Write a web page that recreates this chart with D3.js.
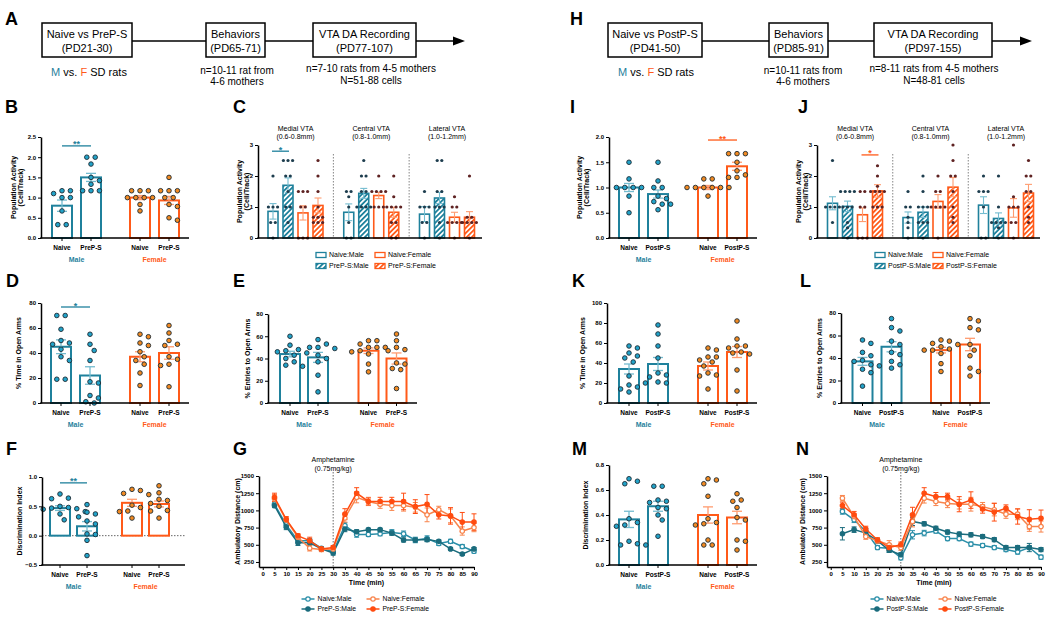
<!DOCTYPE html>
<html>
<head>
<meta charset="utf-8">
<script src="https://cdn.jsdelivr.net/npm/d3@7/dist/d3.min.js"></script>
<style>
html,body{margin:0;padding:0;background:#fff;}
svg{display:block;}
</style>
</head>
<body>
<svg id="chart" width="1050" height="618" xmlns="http://www.w3.org/2000/svg"></svg>
<script>
// ================= DATA =================
const sexes = ["Male", "Female"];
const treatPre = ["Naive", "PreP-S"];
const treatPost = ["Naive", "PostP-S"];
const regions = ["Medial VTA", "Central VTA", "Lateral VTA"];
const regionRanges = ["(0.6-0.8mm)", "(0.8-1.0mm)", "(1.0-1.2mm)"];
const times = [5, 10, 15, 20, 25, 30, 35, 40, 45, 50, 55, 60, 65, 70, 75, 80, 85, 90];
const timeTicks = [0, 5, 10, 15, 20, 25, 30, 35, 40, 45, 50, 55, 60, 65, 70, 75, 80, 85, 90];
const distTicks = [250, 500, 750, 1000, 1250, 1500];

// order in each bar panel: Naive:Male, Treated:Male, Naive:Female, Treated:Female
// B population activity (PreP-S)
const bMean = [0.80, 1.50, 1.00, 0.93];
const bSem = [0.14, 0.10, 0.05, 0.10];
const bPts = [
  [1.17, 1.17, 1.10, 1.00, 1.00, 0.67, 0.33, 0.33],
  [2.00, 2.00, 1.83, 1.50, 1.42, 1.33, 1.17, 1.17, 1.17],
  [1.17, 1.17, 1.17, 1.00, 1.00, 1.00, 1.00, 0.83, 0.67],
  [1.50, 1.17, 1.17, 1.17, 1.00, 1.00, 0.83, 0.78, 0.50, 0.44]
];
// C population activity by region (PreP-S)
const cMedialMean = [0.86, 1.70, 0.81, 1.05];
const cMedialSem = [0.25, 0.24, 0.23, 0.24];
const cCentralMean = [0.83, 1.44, 1.37, 0.83];
const cCentralSem = [0.27, 0.16, 0.10, 0.16];
const cLateralMean = [0.77, 1.29, 0.67, 0.67];
const cLateralSem = [0.24, 0.18, 0.16, 0.18];
const cMedialPts = [[2, 1, 1, 1, 0.5, 0.5, 0], [2.5, 2.5, 2.5, 2, 2, 1.5, 1, 1, 0.5], [1.5, 1.5, 1.5, 1, 1, 0, 0, 0], [2.5, 2, 1.5, 1, 0.67, 0.67, 0.67, 0.5, 0.5, 0.5]];
const cCentralPts = [[1.5, 1.5, 1.33, 1, 0.5, 0, 0], [2.5, 2, 2, 1.5, 1.5, 1, 1, 1, 1], [2, 1.5, 1.5, 1.5, 1.5, 1, 1, 1], [2, 1.33, 1, 1, 1, 1, 0.5, 0.5, 0, 0]];
const cLateralPts = [[1.5, 1, 1, 1, 0.5, 0.5, 0], [2.5, 2.5, 1.5, 1.5, 1, 1, 1, 0.5, 0], [1.33, 1, 1, 0.5, 0.5, 0.5, 0.5, 0], [2, 0.67, 0.67, 0.5, 0.5, 0.5, 0.5, 0]];
// D % time in open arms (PreP-S)
const dMean = [45, 22, 37, 40];
const dSem = [5.5, 7, 4, 5];
const dPts = [
  [70, 70, 59, 50, 48, 47, 43, 37, 34, 19, 19],
  [55, 47, 42, 34, 17, 16, 6, 4, 1, 0],
  [55, 53, 48, 46, 41, 37, 34, 31, 24, 14],
  [62, 56, 50, 47, 46, 37, 35, 31, 30, 13]
];
// E % entries to open arms (PreP-S)
const eMean = [44, 41, 47, 40];
const eSem = [2.5, 4.5, 2.5, 5];
const ePts = [
  [60, 52, 48, 47, 46, 45, 43, 40, 37, 34, 33],
  [57, 53, 50, 50, 49, 43, 40, 37, 25, 10],
  [56, 56, 53, 50, 50, 50, 47, 46, 44, 35, 28],
  [62, 56, 50, 48, 47, 36, 35, 31, 30, 13]
];
// F discrimination index (PreP-S)
const fMean = [0.47, 0.16, 0.56, 0.54];
const fSem = [0.04, 0.08, 0.06, 0.05];
const fPts = [
  [0.71, 0.64, 0.63, 0.50, 0.48, 0.47, 0.46, 0.45, 0.41, 0.37, 0.27],
  [0.53, 0.40, 0.37, 0.32, 0.25, 0.20, 0.03, 0.02, -0.08, -0.34],
  [0.79, 0.77, 0.72, 0.70, 0.52, 0.48, 0.42, 0.41, 0.30],
  [0.85, 0.73, 0.62, 0.60, 0.55, 0.50, 0.43, 0.42, 0.30]
];
// G ambulatory distance (PreP-S)
const gNaiveMale = [1090, 790, 560, 560, 450, 400, 780, 650, 650, 660, 680, 660, 570, 590, 520, 550, 475, 405];
const gPrePMale = [1070, 760, 530, 530, 440, 380, 730, 690, 720, 720, 670, 570, 570, 575, 550, 440, 365, 440];
const gNaiveFemale = [1170, 860, 610, 450, 430, 440, 890, 1190, 1130, 1090, 1070, 1070, 1045, 935, 1010, 920, 700, 750];
const gPrePFemale = [1190, 870, 630, 560, 440, 460, 945, 1250, 1130, 1130, 1130, 1130, 1055, 1090, 935, 920, 830, 830];
const gNaiveMaleSem = [30, 40, 30, 30, 20, 20, 40, 40, 30, 30, 40, 40, 40, 40, 30, 30, 30, 25];
const gPrePMaleSem = [30, 40, 40, 40, 20, 30, 40, 30, 20, 20, 30, 30, 30, 30, 20, 20, 20, 20];
const gNaiveFemaleSem = [60, 40, 40, 40, 30, 30, 60, 80, 60, 60, 70, 80, 70, 100, 50, 100, 60, 60];
const gPrePFemaleSem = [60, 40, 30, 50, 30, 30, 80, 80, 50, 60, 60, 120, 100, 140, 60, 120, 140, 120];

// I population activity (PostP-S)
const iMean = [1.00, 0.87, 1.00, 1.42];
const iSem = [0.08, 0.08, 0.04, 0.08];
const iPts = [
  [1.50, 1.17, 1.00, 1.00, 1.00, 1.00, 0.83, 0.50],
  [1.50, 1.13, 1.00, 1.00, 0.83, 0.78, 0.72, 0.67, 0.67, 0.56],
  [1.17, 1.17, 1.00, 1.00, 1.00, 1.00, 1.00, 1.00, 0.83],
  [1.67, 1.67, 1.67, 1.50, 1.33, 1.25, 1.20, 1.20]
];
// J population activity by region (PostP-S)
const jMedialMean = [1.12, 1.02, 0.75, 1.52];
const jMedialSem = [0.21, 0.17, 0.22, 0.20];
const jCentralMean = [0.66, 0.83, 1.18, 1.64];
const jCentralSem = [0.18, 0.17, 0.22, 0.31];
const jLateralMean = [1.06, 0.63, 0.97, 1.45];
const jLateralSem = [0.27, 0.18, 0.30, 0.28];
const jMedialPts = [[2.5, 1, 1, 1, 1, 0.5], [1.5, 1.5, 1.5, 1.5, 1, 1, 1, 0.5, 0.33, 0], [1.5, 1.5, 1, 1, 0, 0, 0], [2.33, 2, 1.67, 1.5, 1.5, 1.5, 1.5, 1, 1, 1]];
const jCentralPts = [[1.5, 1, 1, 0.67, 0.5, 0.33, 0], [2, 1.5, 1, 1, 1, 0.5, 0.5, 0.5, 0], [2, 1.5, 1.5, 1, 1, 1, 1, 0], [3, 2.5, 2, 2, 1.5, 1, 0.67, 0.5]];
const jLateralPts = [[2, 1.5, 1.5, 1.5, 1, 0, 0], [2, 1, 0.5, 0.5, 0.5, 0.5, 0.33, 0], [3, 1.33, 1, 1, 1, 0.5, 0.5, 0], [2.5, 2, 2, 1.5, 1.5, 1, 0.67, 0.5]];
// K % time in open arms (PostP-S)
const kMean = [34, 39, 37, 51];
const kSem = [5, 6.5, 4, 5.5];
const kPts = [
  [57, 55, 50, 47, 45, 41, 27, 18, 16, 14, 11],
  [78, 69, 57, 45, 30, 28, 26, 21, 20, 20],
  [55, 53, 46, 46, 43, 41, 37, 30, 28, 27, 14],
  [82, 64, 57, 57, 55, 51, 50, 49, 33, 12]
];
// L % entries to open arms (PostP-S)
const lMean = [37, 50, 47, 52];
const lSem = [3.5, 4.5, 2.5, 5.5];
const lPts = [
  [56, 53, 45, 42, 38, 37, 34, 33, 30, 27, 15],
  [75, 67, 64, 55, 52, 45, 43, 37, 34, 31],
  [56, 55, 53, 52, 50, 48, 47, 47, 44, 35, 28],
  [75, 73, 67, 65, 52, 47, 42, 31, 28, 24]
];
// M discrimination index (PostP-S)
const mMean = [0.365, 0.47, 0.40, 0.38];
const mSem = [0.065, 0.04, 0.065, 0.05];
const mPts = [
  [0.69, 0.67, 0.65, 0.37, 0.34, 0.32, 0.31, 0.19, 0.17, 0.16, 0.16],
  [0.63, 0.63, 0.52, 0.51, 0.50, 0.46, 0.45, 0.40, 0.36, 0.23],
  [0.69, 0.68, 0.65, 0.55, 0.37, 0.34, 0.33, 0.32, 0.20, 0.16, 0.16],
  [0.57, 0.52, 0.51, 0.46, 0.38, 0.36, 0.20, 0.19, 0.12]
];
// N ambulatory distance (PostP-S)
const nNaiveMale = [985, 863, 695, 460, 450, 310, 645, 670, 700, 590, 590, 510, 490, 460, 430, 395, 460, 320];
const nPostPMale = [660, 720, 670, 560, 420, 355, 840, 805, 740, 685, 655, 645, 620, 575, 460, 460, 460, 430];
const nNaiveFemale = [1177, 910, 620, 560, 500, 460, 840, 1177, 1130, 1100, 1090, 1090, 1055, 1010, 945, 945, 765, 765];
const nPostPFemale = [1070, 935, 730, 570, 460, 500, 935, 1250, 1200, 1200, 1090, 1150, 1020, 975, 1030, 910, 870, 885];
const nNaiveMaleSem = [40, 40, 40, 30, 60, 30, 60, 40, 30, 30, 30, 30, 30, 30, 30, 30, 30, 30];
const nPostPMaleSem = [90, 40, 40, 30, 30, 30, 60, 30, 30, 30, 30, 30, 30, 30, 30, 30, 60, 30];
const nNaiveFemaleSem = [40, 40, 40, 40, 60, 40, 80, 70, 60, 60, 70, 100, 60, 90, 60, 80, 70, 80];
const nPostPFemaleSem = [50, 50, 40, 30, 40, 40, 110, 80, 60, 50, 110, 120, 60, 130, 50, 110, 140, 120];

// ================= STYLE =================
const FONT = "'Liberation Sans', Arial, Helvetica, sans-serif";
const MALE = "#1f819c", FEMALE = "#ff5a19";
const MALE_LIGHT = "#74bcd0", FEMALE_LIGHT = "#ff9c70";
const MALE_DOT = "#22a3c9", FEMALE_DOT = "#f28a22", DOT_STROKE = "#1c2a33";
const MALE_SMALL = "#1d3d4e", FEMALE_SMALL = "#5e2222";

const svg = d3.select("#chart");
svg.append("rect").attr("width", 1050).attr("height", 618).attr("fill", "#fff");
const defs = svg.append("defs");
function makeHatch(id, color) {
  const p = defs.append("pattern").attr("id", id).attr("patternUnits", "userSpaceOnUse")
    .attr("width", 3.6).attr("height", 3.6).attr("patternTransform", "rotate(45)");
  p.append("rect").attr("width", 3.6).attr("height", 3.6).attr("fill", "#fff");
  p.append("rect").attr("width", 1.8).attr("height", 3.6).attr("fill", color);
}
makeHatch("hatchM", MALE);
makeHatch("hatchF", FEMALE);

function T(g, x, y, s, o = {}) {
  return g.append("text").attr("x", x).attr("y", y).text(s)
    .attr("font-family", FONT).attr("font-size", o.size || 7)
    .attr("font-weight", o.bold ? "bold" : "normal")
    .attr("text-anchor", o.anchor || "middle").attr("fill", o.fill || "#000");
}
function vlabel(g, x, yc, s, size = 7) {
  g.append("text").attr("transform", `translate(${x},${yc}) rotate(-90)`).attr("text-anchor", "middle")
    .attr("font-family", FONT).attr("font-size", size).attr("font-weight", "bold").attr("fill", "#000").text(s);
}
function letter(x, y, s) { T(svg, x, y, s, { size: 18, bold: true, anchor: "start" }); }
function styleAxis(a, size = 6) {
  a.attr("font-family", FONT).attr("font-size", size).attr("font-weight", "bold");
  a.select(".domain").attr("stroke-width", 1.5);
  a.selectAll(".tick line").attr("stroke-width", 1);
}
function errBar(g, cx, yTop, yBot, hw, col, w) {
  g.append("line").attr("x1", cx).attr("x2", cx).attr("y1", yTop).attr("y2", yBot).attr("stroke", col).attr("stroke-width", w);
  [yTop, yBot].forEach(yy => g.append("line").attr("x1", cx - hw).attr("x2", cx + hw).attr("y1", yy).attr("y2", yy).attr("stroke", col).attr("stroke-width", w));
}
// deterministic beeswarm offsets
function swarm(vals, y, step, minD) {
  const placed = [];
  vals.map(v => y(v)).sort((a, b) => a - b).forEach(cy => {
    for (let k = 0; k < 40; k++) {
      const dx = k === 0 ? 0 : (k % 2 ? 1 : -1) * Math.ceil(k / 2) * step / 2;
      if (placed.every(p => (p.dx - dx) ** 2 + (p.cy - cy) ** 2 >= minD * minD - 0.01)) { placed.push({ dx, cy }); break; }
    }
  });
  const rows = d3.groups(placed, p => Math.round(p.cy * 2) / 2);
  rows.forEach(([key, pts]) => {
    const shift = -d3.mean(pts, p => p.dx);
    const others = placed.filter(p => !pts.includes(p));
    const ok = pts.every(p => others.every(q => (p.dx + shift - q.dx) ** 2 + (p.cy - q.cy) ** 2 >= minD * minD - 0.01));
    if (ok) pts.forEach(p => p.dx += shift);
  });
  return placed;
}

// ================= TIMELINES =================
function timeline(o) {
  const g = svg.append("g");
  const yl = o.lineY;
  g.append("line").attr("x1", o.boxes[0].x1).attr("x2", o.arrowEnd - 8).attr("y1", yl).attr("y2", yl).attr("stroke", "#000").attr("stroke-width", 1.5);
  g.append("path").attr("d", `M${o.arrowEnd},${yl} L${o.arrowEnd - 12},${yl - 4.5} L${o.arrowEnd - 12},${yl + 4.5} Z`).attr("fill", "#000");
  o.boxes.forEach(b => {
    g.append("rect").attr("x", b.x1).attr("y", o.y1).attr("width", b.x2 - b.x1).attr("height", o.y2 - o.y1)
      .attr("fill", "#fff").attr("stroke", "#000").attr("stroke-width", 1.5);
    T(g, (b.x1 + b.x2) / 2, 38, b.lines[0], { size: 11 });
    T(g, (b.x1 + b.x2) / 2, 52, b.lines[1], { size: 11 });
  });
  const t = T(g, o.sdX, 76, "", { size: 11 });
  t.append("tspan").attr("fill", MALE).text("M");
  t.append("tspan").text(" vs. ");
  t.append("tspan").attr("fill", FEMALE).text("F");
  t.append("tspan").text(" SD rats");
  T(g, o.n1X, 73.5, o.n1[0], { size: 10 });
  T(g, o.n1X, 84.5, o.n1[1], { size: 10 });
  T(g, o.n2X, 72, o.n2[0], { size: 10 });
  T(g, o.n2X, 83.5, o.n2[1], { size: 10 });
}
timeline({
  lineY: 41, y1: 23, y2: 57, arrowEnd: 465,
  boxes: [{ x1: 42, x2: 132, lines: ["Naive vs PreP-S", "(PD21-30)"] }, { x1: 206, x2: 265, lines: ["Behaviors", "(PD65-71)"] }, { x1: 313, x2: 416, lines: ["VTA DA Recording", "(PD77-107)"] }],
  sdX: 89, n1X: 237, n1: ["n=10-11 rat from", "4-6 mothers"], n2X: 371, n2: ["n=7-10 rats from 4-5 mothers", "N=51-88 cells"]
});
timeline({
  lineY: 41, y1: 23, y2: 57, arrowEnd: 1032,
  boxes: [{ x1: 608, x2: 702, lines: ["Naive vs PostP-S", "(PD41-50)"] }, { x1: 769, x2: 828, lines: ["Behaviors", "(PD85-91)"] }, { x1: 874, x2: 992, lines: ["VTA DA Recording", "(PD97-155)"] }],
  sdX: 656, n1X: 803, n1: ["n=10-11 rats from", "4-6 mothers"], n2X: 934, n2: ["n=8-11 rats from 4-5 mothers", "N=48-81 cells"]
});

// ================= BAR PANELS =================
function barPanel(o) {
  const g = svg.append("g");
  const y = d3.scaleLinear().domain(o.domain).range([o.bottom, o.top]);
  const xs = d3.scalePoint().domain(sexes).range(o.sexX);
  const xt = d3.scalePoint().domain(o.treat).range([-o.half, o.half]);
  const base = y(Math.max(0, o.domain[0]));
  const BW = 20;
  if (o.zero) g.append("line").attr("x1", o.left).attr("x2", o.right).attr("y1", y(0)).attr("y2", y(0))
    .attr("stroke", "#666").attr("stroke-width", 1).attr("stroke-dasharray", "1.5,1.5");
  const items = [];
  sexes.forEach((sx, si) => o.treat.forEach((tr, ti) => items.push({ sx, tr, i: si * 2 + ti, cx: xs(sx) + xt(tr) })));
  items.forEach(d => {
    const col = d.sx === "Male" ? MALE : FEMALE;
    const yv = y(o.means[d.i]);
    g.append("rect").attr("x", d.cx - BW / 2).attr("width", BW).attr("y", Math.min(yv, base)).attr("height", Math.abs(base - yv))
      .attr("fill", "#fff").attr("stroke", col).attr("stroke-width", 2);
  });
  items.forEach(d => {
    const col = d.sx === "Male" ? MALE_LIGHT : FEMALE_LIGHT;
    errBar(g, d.cx, y(o.means[d.i] + o.sems[d.i]), y(o.means[d.i] - o.sems[d.i]), 5, col, 1.3);
  });
  items.forEach(d => {
    const fill = d.sx === "Male" ? MALE_DOT : FEMALE_DOT;
    swarm(o.pts[d.i], y, 8.4, 6.4).forEach(p => g.append("circle").attr("cx", d.cx + p.dx).attr("cy", p.cy).attr("r", 2.3)
      .attr("fill", fill).attr("stroke", DOT_STROKE).attr("stroke-width", 0.9));
  });
  const ay = g.append("g").attr("transform", `translate(${o.left},0)`)
    .call(d3.axisLeft(y).tickValues(o.ticks).tickFormat(o.fmt).tickSize(3).tickSizeOuter(0).tickPadding(2));
  styleAxis(ay);
  g.append("line").attr("x1", o.left - 0.75).attr("x2", o.right).attr("y1", o.bottom).attr("y2", o.bottom).attr("stroke", "#000").attr("stroke-width", 1.5);
  items.forEach(d => {
    g.append("line").attr("x1", d.cx).attr("x2", d.cx).attr("y1", o.bottom).attr("y2", o.bottom + 3).attr("stroke", "#000").attr("stroke-width", 1);
    T(g, d.cx, o.bottom + 11.5, d.tr, { size: 6.5, bold: true });
  });
  sexes.forEach(sx => T(g, xs(sx), o.bottom + 23.5, sx, { size: 7, bold: true, fill: sx === "Male" ? MALE : FEMALE }));
  o.ylabel.forEach((s, k) => vlabel(g, o.ylx + k * 7.5, (o.top + o.bottom) / 2, s));
  if (o.sig) {
    const col = o.sig.sex === "Male" ? MALE : FEMALE;
    const x1 = xs(o.sig.sex) + xt(o.treat[0]), x2 = xs(o.sig.sex) + xt(o.treat[1]);
    g.append("line").attr("x1", x1).attr("x2", x2).attr("y1", y(o.sig.y)).attr("y2", y(o.sig.y)).attr("stroke", col).attr("stroke-width", 1.3);
    T(g, (x1 + x2) / 2, y(o.sig.y) + 1.5, o.sig.label, { size: 9, bold: true, fill: col });
  }
}
const f1 = d3.format(".1f"), f0 = d3.format("d");
barPanel({ left: 41, right: 189, top: 137, bottom: 238, domain: [0, 2.5], ticks: [0, 0.5, 1, 1.5, 2, 2.5], fmt: f1,
  sexX: [76.5, 154.5], half: 14.5, treat: treatPre, means: bMean, sems: bSem, pts: bPts,
  ylabel: ["Population Activity", "(Cell/Track)"], ylx: 15.5, sig: { sex: "Male", y: 2.28, label: "**" } });
barPanel({ left: 41, right: 189, top: 303, bottom: 403, domain: [0, 80], ticks: [0, 20, 40, 60, 80], fmt: f0,
  sexX: [75.5, 154.5], half: 14.5, treat: treatPre, means: dMean, sems: dSem, pts: dPts,
  ylabel: ["% Time in Open Arms"], ylx: 20.5, sig: { sex: "Male", y: 76.8, label: "*" } });
barPanel({ left: 268, right: 417, top: 314, bottom: 403, domain: [0, 80], ticks: [0, 20, 40, 60, 80], fmt: f0,
  sexX: [304, 382.5], half: 14, treat: treatPre, means: eMean, sems: eSem, pts: ePts,
  ylabel: ["% Entries to Open Arms"], ylx: 249.5 });
barPanel({ left: 42, right: 185, top: 477, bottom: 565, domain: [-0.5, 1.0], ticks: [-0.5, 0, 0.5, 1.0], fmt: f1, zero: true,
  sexX: [73.5, 145.5], half: 13.5, treat: treatPre, means: fMean, sems: fSem, pts: fPts,
  ylabel: ["Discrimination Index"], ylx: 21.5, sig: { sex: "Male", y: 0.9, label: "**" } });
barPanel({ left: 609, right: 757, top: 137, bottom: 238, domain: [0, 2.0], ticks: [0, 0.5, 1, 1.5, 2], fmt: f1,
  sexX: [643.5, 722.5], half: 14.5, treat: treatPost, means: iMean, sems: iSem, pts: iPts,
  ylabel: ["Population Activity", "(Cell/Track)"], ylx: 581.5, sig: { sex: "Female", y: 1.94, label: "**" } });
barPanel({ left: 607, right: 757, top: 303, bottom: 403, domain: [0, 100], ticks: [0, 20, 40, 60, 80, 100], fmt: f0,
  sexX: [643.5, 722.5], half: 14.5, treat: treatPost, means: kMean, sems: kSem, pts: kPts,
  ylabel: ["% Time in Open Arms"], ylx: 584.5 });
barPanel({ left: 841, right: 990, top: 313, bottom: 403, domain: [0, 80], ticks: [0, 20, 40, 60, 80], fmt: f0,
  sexX: [877, 955.5], half: 14.5, treat: treatPost, means: lMean, sems: lSem, pts: lPts,
  ylabel: ["% Entries to Open Arms"], ylx: 822 });
barPanel({ left: 609, right: 757, top: 465, bottom: 565, domain: [0, 0.8], ticks: [0, 0.2, 0.4, 0.6, 0.8], fmt: f1,
  sexX: [643.5, 722.5], half: 14.5, treat: treatPost, means: mMean, sems: mSem, pts: mPts,
  ylabel: ["Discrimination Index"], ylx: 587.5 });

// ================= REGION PANELS =================
function regionPanel(o) {
  const g = svg.append("g");
  const y = d3.scaleLinear().domain([0, 3]).range([o.bottom, o.top]);
  const xr = d3.scalePoint().domain(regions).range(o.regionX);
  const xi = d3.scalePoint().domain([0, 1, 2, 3]).range([-22.5, 22.5]);
  const step = xr.step();
  const BW = 10;
  regions.slice(1).forEach(r => g.append("line").attr("x1", xr(r) - step / 2).attr("x2", xr(r) - step / 2)
    .attr("y1", o.top + 9).attr("y2", o.bottom).attr("stroke", "#777").attr("stroke-width", 0.9).attr("stroke-dasharray", "1.5,1.5"));
  regions.forEach((r, ri) => {
    T(g, xr(r), 131, r, { size: 7 });
    T(g, xr(r), 139, regionRanges[ri], { size: 7 });
    [0, 1, 2, 3].forEach(k => {
      const male = k < 2, hatched = k % 2 === 1;
      const col = male ? MALE : FEMALE;
      const cx = xr(r) + xi(k);
      const m = o.means[ri][k], s = o.sems[ri][k];
      g.append("rect").attr("x", cx - BW / 2).attr("width", BW).attr("y", y(m)).attr("height", y(0) - y(m))
        .attr("fill", hatched ? (male ? "url(#hatchM)" : "url(#hatchF)") : "#fff").attr("stroke", col).attr("stroke-width", 1.6);
      errBar(g, cx, y(m + s), y(m - s), 3.5, male ? MALE_LIGHT : FEMALE_LIGHT, 1.1);
      swarm(o.pts[ri][k], y, 4.6, 4.2).forEach(p => g.append("circle").attr("cx", cx + p.dx).attr("cy", p.cy).attr("r", 1.6)
        .attr("fill", male ? MALE_SMALL : FEMALE_SMALL));
    });
  });
  const ay = g.append("g").attr("transform", `translate(${o.left},0)`)
    .call(d3.axisLeft(y).tickValues([0, 1, 2, 3]).tickFormat(d3.format("d")).tickSize(3).tickSizeOuter(0).tickPadding(2));
  styleAxis(ay);
  g.append("line").attr("x1", o.left - 0.75).attr("x2", o.right).attr("y1", o.bottom).attr("y2", o.bottom).attr("stroke", "#000").attr("stroke-width", 1.5);
  ["Population Activity", "(Cell/Track)"].forEach((s, k) => vlabel(g, o.ylx + k * 7.5, (o.top + o.bottom) / 2, s));
  if (o.sig) {
    const col = o.sig.male ? MALE : FEMALE;
    const x1 = xr(o.sig.region) + xi(o.sig.k[0]), x2 = xr(o.sig.region) + xi(o.sig.k[1]);
    g.append("line").attr("x1", x1 - 1).attr("x2", x2 + 1).attr("y1", y(o.sig.y)).attr("y2", y(o.sig.y)).attr("stroke", col).attr("stroke-width", 1.3);
    T(g, (x1 + x2) / 2, y(o.sig.y) + 1.5, "*", { size: 9, bold: true, fill: col });
  }
  const entries = [
    { label: "Naive:Male", col: MALE, fill: "#fff", x: o.legX[0], y: 255 },
    { label: o.treat + ":Male", col: MALE, fill: "url(#hatchM)", x: o.legX[0], y: 266 },
    { label: "Naive:Female", col: FEMALE, fill: "#fff", x: o.legX[1], y: 255 },
    { label: o.treat + ":Female", col: FEMALE, fill: "url(#hatchF)", x: o.legX[1], y: 266 }
  ];
  entries.forEach(e => {
    g.append("rect").attr("x", e.x).attr("y", e.y - 2.5).attr("width", 10).attr("height", 5).attr("fill", e.fill).attr("stroke", e.col).attr("stroke-width", 1.3);
    T(g, e.x + 13, e.y + 2.4, e.label, { size: 7, anchor: "start" });
  });
}
regionPanel({ left: 258, right: 482, top: 145, bottom: 238, regionX: [295.5, 447], ylx: 241.5, treat: "PreP-S", legX: [316, 375],
  means: [cMedialMean, cCentralMean, cLateralMean], sems: [cMedialSem, cCentralSem, cLateralSem], pts: [cMedialPts, cCentralPts, cLateralPts],
  sig: { region: "Medial VTA", k: [0, 1], y: 2.8, male: true } });
regionPanel({ left: 817, right: 1040, top: 145, bottom: 238, regionX: [855, 1006], ylx: 800.5, treat: "PostP-S", legX: [875, 933],
  means: [jMedialMean, jCentralMean, jLateralMean], sems: [jMedialSem, jCentralSem, jLateralSem], pts: [jMedialPts, jCentralPts, jLateralPts],
  sig: { region: "Medial VTA", k: [2, 3], y: 2.68, male: false } });

// ================= LINE PANELS =================
function linePanel(o) {
  const g = svg.append("g");
  const x = d3.scaleLinear().domain([-1.6, 90]).range([o.left, o.right]);
  const y = d3.scaleLinear().domain([177, 1500]).range([o.bottom, o.top]);
  g.append("line").attr("x1", x(30)).attr("x2", x(30)).attr("y1", o.top - 4).attr("y2", o.bottom)
    .attr("stroke", "#444").attr("stroke-width", 0.8).attr("stroke-dasharray", "1.5,1.5");
  T(g, x(30), o.top - 14.5, "Amphetamine", { size: 7 });
  T(g, x(30), o.top - 5.5, "(0.75mg/kg)", { size: 7 });
  const line = d3.line().x((d, i) => x(times[i])).y(d => y(d));
  o.series.forEach(s => s.vals.forEach((v, i) => errBar(g, x(times[i]), y(v + s.sem[i]), y(v - s.sem[i]), 2.5, s.color, 1)));
  o.series.forEach(s => {
    g.append("path").attr("d", line(s.vals)).attr("fill", "none").attr("stroke", s.color).attr("stroke-width", 1.5);
    s.vals.forEach((v, i) => g.append("circle").attr("cx", x(times[i])).attr("cy", y(v)).attr("r", 2.2)
      .attr("fill", s.open ? "#fff" : s.color).attr("stroke", s.color).attr("stroke-width", 1.2));
  });
  const ay = g.append("g").attr("transform", `translate(${o.left},0)`)
    .call(d3.axisLeft(y).tickValues(distTicks).tickFormat(d3.format("d")).tickSize(3).tickSizeOuter(0).tickPadding(2));
  styleAxis(ay);
  const ax = g.append("g").attr("transform", `translate(0,${o.bottom})`)
    .call(d3.axisBottom(x).tickValues(timeTicks).tickFormat(d3.format("d")).tickSize(3).tickSizeOuter(0).tickPadding(1.5));
  styleAxis(ax);
  vlabel(g, o.ylx, (o.top + o.bottom) / 2, "Ambulatory Distance (cm)");
  T(g, (o.left + x(90)) / 2, o.bottom + 17.5, "Time (min)", { size: 7, bold: true });
  const pos = [[o.legX[0], 599], [o.legX[0], 609], [o.legX[1], 599], [o.legX[1], 609]];
  o.series.forEach((s, k) => {
    const [mx, my] = pos[k];
    g.append("line").attr("x1", mx - 6.5).attr("x2", mx + 6.5).attr("y1", my).attr("y2", my).attr("stroke", s.color).attr("stroke-width", 1.5);
    g.append("circle").attr("cx", mx).attr("cy", my).attr("r", 2.2).attr("fill", s.open ? "#fff" : s.color).attr("stroke", s.color).attr("stroke-width", 1.2);
    T(g, mx + 9.5, my + 2.3, s.label, { size: 6.8, anchor: "start" });
  });
}
const C_NM = "#2a8ea8", C_PM = "#1b6c7d", C_NF = "#f8844c", C_PF = "#ff4c10";
linePanel({ left: 259, right: 474, top: 476, bottom: 567, ylx: 239.5, legX: [308, 373],
  series: [
    { label: "Naive:Male", vals: gNaiveMale, sem: gNaiveMaleSem, color: C_NM, open: true },
    { label: "PreP-S:Male", vals: gPrePMale, sem: gPrePMaleSem, color: C_PM, open: false },
    { label: "Naive:Female", vals: gNaiveFemale, sem: gNaiveFemaleSem, color: C_NF, open: true },
    { label: "PreP-S:Female", vals: gPrePFemale, sem: gPrePFemaleSem, color: C_PF, open: false }
  ] });
linePanel({ left: 827, right: 1041, top: 476, bottom: 567, ylx: 804.5, legX: [877, 945],
  series: [
    { label: "Naive:Male", vals: nNaiveMale, sem: nNaiveMaleSem, color: C_NM, open: true },
    { label: "PostP-S:Male", vals: nPostPMale, sem: nPostPMaleSem, color: C_PM, open: false },
    { label: "Naive:Female", vals: nNaiveFemale, sem: nNaiveFemaleSem, color: C_NF, open: true },
    { label: "PostP-S:Female", vals: nPostPFemale, sem: nPostPFemaleSem, color: C_PF, open: false }
  ] });

// ================= PANEL LETTERS =================
[["A", 5, 25], ["B", 5, 113], ["C", 233, 113], ["D", 6, 287], ["E", 233, 287], ["F", 6, 455], ["G", 233, 455],
 ["H", 570, 25], ["I", 570, 113], ["J", 798, 113], ["K", 572, 287], ["L", 800, 287], ["M", 572, 455], ["N", 796, 455]]
  .forEach(([s, x, y]) => letter(x, y, s));
</script>
</body>
</html>
